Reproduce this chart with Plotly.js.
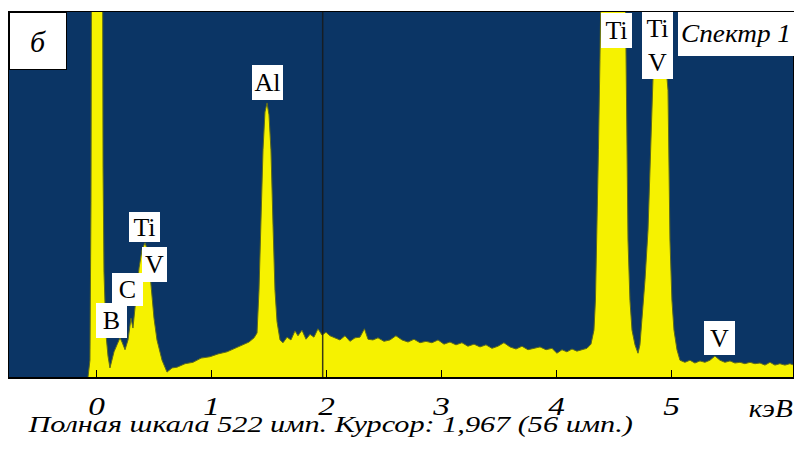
<!DOCTYPE html>
<html>
<head>
<meta charset="utf-8">
<script src="https://cdn.plot.ly/plotly-3.0.1.min.js"></script>
<style>html,body{margin:0;padding:0;background:#fff;}#chart{width:794px;height:450px;}</style>
</head>
<body>
<div id="chart"></div>
<script>
// Energy axis (keV) and counts (imp.)
const energyKeV = [-0.074,-0.057,-0.048,-0.039,0.004,0.048,0.057,0.065,0.083,0.1,0.117,
  0.152,0.178,0.204,0.222,0.248,0.274,0.3,0.317,0.343,0.37,0.396,0.422,0.448,0.474,0.5,0.526,0.57,0.613,
  0.657,0.7,0.77,0.839,0.909,0.987,1.057,1.135,1.204,1.265,1.326,1.37,1.396,1.413,1.43,1.448,1.465,1.483,
  1.5,1.517,1.535,1.552,1.57,1.596,1.622,1.657,1.691,1.726,1.752,1.787,1.822,1.857,1.891,1.926,1.961,1.996,
  2.03,2.074,2.117,2.161,2.204,2.248,2.291,2.33,2.361,2.404,2.448,2.5,2.552,2.604,2.657,2.709,2.761,2.813,
  2.865,2.917,2.97,3.022,3.074,3.126,3.178,3.23,3.283,3.335,3.387,3.439,3.491,3.543,3.596,3.648,3.7,3.752,
  3.804,3.857,3.909,3.961,4.004,4.048,4.091,4.135,4.178,4.222,4.265,4.3,4.326,4.339,4.352,4.365,4.378,4.387,
  4.422,4.491,4.552,4.6,4.622,4.639,4.657,4.683,4.709,4.726,4.743,4.77,4.796,4.822,4.839,4.865,4.909,4.952,
  4.97,4.987,5.004,5.022,5.048,5.074,5.117,5.161,5.204,5.248,5.291,5.335,5.378,5.422,5.465,5.509,5.552,5.596,
  5.639,5.683,5.726,5.77,5.813,5.857,5.9,5.943,5.987,6.03,6.065];
const countsImp = [0,24,250,900,1200,900,300,150,60,30,13,
  36,46,56,50,39,53,84,70,110,156,182,192,179,136,84,53,24,7,
  13,14,19,21,27,29,33,36,41,46,50,56,63,124,225,325,379,392,
  375,325,217,124,79,53,49,57,53,66,59,67,54,61,57,69,60,64,
  59,56,53,59,51,56,57,69,54,53,56,51,53,59,53,50,54,49,
  51,49,53,47,50,46,49,44,47,43,46,41,44,49,43,40,44,39,
  41,43,39,41,34,39,36,40,37,39,41,47,67,110,196,325,453,560,
  620,660,640,540,196,110,67,46,34,46,82,139,210,325,425,453,460,446,
  410,196,110,67,39,24,21,24,20,23,21,24,30,24,21,23,20,21,
  19,21,19,20,17,21,17,19,17,19,17];

const tickVals = [0,1,2,3,4,5];
const tickText = ['0','1','2','3','4','5'];
const cursorKeV = 1.967;
const fullScale = 522;
const unitLabel = 'кэВ';
const footerText = 'Полная шкала 522 имп. Курсор: 1,967 (56 имп.)';
const panelLabel = 'б';
const spectrumLabel = 'Спектр 1';
const peakLabels = ['B','C','Ti','V','Al','Ti','Ti<br>V','V'];

// plot geometry (pixels)
const W = 794, H = 450, L = 9, R = 1, T = 12, B = 73;
const PW = W - L - R, PH = H - T - B;
const px = x => (x - L) / PW;
const py = y => (H - B - y) / PH;

const serif = 'Tinos';

function box(text, cx, cy, w, h, size, italic, border) {
  return {
    text: text, xref: 'paper', yref: 'paper', x: px(cx), y: py(cy),
    xanchor: 'center', yanchor: 'middle', showarrow: false,
    width: w, height: h, bgcolor: '#ffffff',
    bordercolor: border ? '#000000' : 'rgba(0,0,0,0)', borderwidth: border ? 1 : 0, borderpad: 0,
    font: {family: serif, size: size, color: '#000000', style: italic ? 'italic' : 'normal'}
  };
}

const annotations = [
  box(panelLabel, 38, 41, 56, 56, 30, true, true),
  box(spectrumLabel, 736, 34, 116, 44, 25, true, false),
  box(peakLabels[0], 111, 320, 31, 35, 26, false, false),
  box(peakLabels[1], 127, 289, 31, 33, 26, false, false),
  box(peakLabels[2], 144, 227, 31, 30, 26, false, false),
  box(peakLabels[3], 154, 264, 25, 35, 26, false, false),
  box(peakLabels[4], 267, 82, 31, 35, 26, false, false),
  box(peakLabels[5], 616, 30, 31, 35, 26, false, false),
  box(peakLabels[6], 657, 46, 31, 67, 26, false, false),
  box(peakLabels[7], 719, 338, 31, 34, 26, false, false),
  {text: unitLabel, xref: 'paper', yref: 'paper', x: px(771), y: py(408), xanchor: 'center', yanchor: 'middle',
   showarrow: false, font: {family: serif, size: 25, color: '#000', style: 'italic'}},
  {text: footerText, xref: 'paper', yref: 'paper', x: px(25), y: py(424), xanchor: 'left', yanchor: 'middle',
   showarrow: false, font: {family: serif, size: 23, color: '#000', style: 'italic'}}
];

const trace = {
  x: energyKeV, y: countsImp, type: 'scatter', mode: 'lines',
  fill: 'tozeroy', fillcolor: '#f6f200',
  line: {color: '#5d6a1e', width: 1, shape: 'linear'},
  hoverinfo: 'skip'
};

const layout = {
  width: W, height: H,
  margin: {l: L, r: R, t: T, b: B},
  paper_bgcolor: '#ffffff', plot_bgcolor: '#0b3565',
  showlegend: false,
  xaxis: {
    range: [-0.761, 6.057], showgrid: false, zeroline: false,
    showline: true, mirror: true, linecolor: '#000', linewidth: 1.5,
    ticks: 'inside', ticklen: 7, tickwidth: 1.5, tickcolor: '#000',
    tickmode: 'array', tickvals: tickVals, ticktext: tickText,
    tickfont: {family: serif, size: 26, color: '#000', style: 'italic'},
    ticklabelstandoff: 5
  },
  yaxis: {
    range: [0, fullScale], showgrid: false, zeroline: false,
    showline: true, mirror: true, linecolor: '#000', linewidth: 1,
    showticklabels: false, ticks: ''
  },
  shapes: [{
    type: 'line', xref: 'x', yref: 'paper', x0: cursorKeV, x1: cursorKeV, y0: 0, y1: 1,
    line: {color: 'rgba(25,25,25,0.85)', width: 1.5}, layer: 'above'
  }],
  annotations: annotations
};

// The reference's lettering is horizontally stretched; widen text glyphs in place.
function stretch(el, s, anchor) {
  if (!el) return;
  const bb = el.getBBox();
  const o = anchor === 'left' ? bb.x : bb.x + bb.width / 2;
  const prev = el.getAttribute('transform') || '';
  el.setAttribute('transform', (prev + ' translate(' + o + ',0) scale(' + s + ',1) translate(' + (-o) + ',0)').trim());
}
function stretchTo(el, width, anchor) {
  if (!el) return;
  const w = el.getBBox().width;
  if (w > 0) stretch(el, width / w, anchor);
}

Plotly.newPlot('chart', [trace], layout, {staticPlot: true, displayModeBar: false}).then(gd => {
  gd.querySelectorAll('.xtick text').forEach(t => stretch(t, 1.28, 'center'));
  const ann = i => gd.querySelector('.annotation[data-index="' + i + '"] text.annotation-text');
  stretchTo(ann(1), 110, 'center');
  stretchTo(ann(10), 44, 'center');
  stretchTo(ann(11), 606, 'left');
});
</script>
</body>
</html>
